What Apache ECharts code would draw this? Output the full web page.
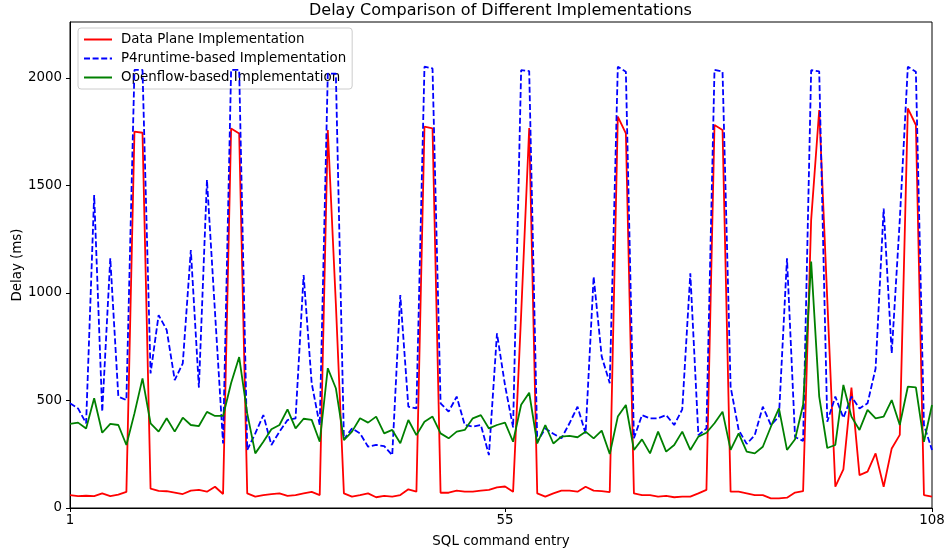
<!DOCTYPE html>
<html>
<head>
<meta charset="utf-8">
<title>Delay Comparison</title>
<script src="https://cdn.jsdelivr.net/npm/echarts@6/dist/echarts.min.js"></script>
<style>
html, body { margin: 0; padding: 0; background: #fff; }
#main { width: 944px; height: 556px; }
</style>
</head>
<body>
<div id="main"></div>
<script>
// delay values (ms) read per SQL command entry, 108 entries
var dataPlane = [
	60, 55, 57, 55, 68, 55, 62, 75, 1750, 1745,
	90, 80, 78, 72, 65, 81, 84, 76, 99, 65,
	1765, 1742, 68, 53, 60, 65, 68, 56, 60, 68,
	75, 60, 1758, 950, 68, 53, 60, 68, 50, 56,
	53, 60, 87, 76, 1773, 1765, 71, 71, 81, 76,
	76, 81, 84, 96, 100, 75, 900, 1767, 68, 53,
	68, 81, 81, 76, 99, 81, 78, 74, 1820, 1742,
	68, 60, 60, 53, 56, 50, 53, 53, 68, 84,
	1781, 1758, 76, 76, 68, 60, 60, 45, 45, 48,
	72, 78, 1340, 1851, 970, 99, 180, 560, 153, 169,
	254, 99, 277, 340, 1858, 1781, 60, 53
];
var p4runtime = [
	487, 463, 394, 1455, 448, 1161, 518, 502, 2037, 2037,
	626, 897, 828, 595, 673, 1200, 560, 1526, 910, 300,
	2037, 2037, 270, 347, 432, 293, 355, 409, 417, 1083,
	580, 385, 2020, 2020, 320, 370, 347, 285, 293, 288,
	246, 990, 471, 463, 2052, 2044, 487, 448, 518, 386,
	378, 386, 246, 812, 570, 375, 2036, 2032, 308, 370,
	345, 324, 394, 471, 347, 1076, 704, 580, 2052, 2029,
	324, 432, 417, 417, 432, 386, 459, 1091, 339, 370,
	2037, 2029, 564, 363, 298, 339, 471, 386, 425, 1161,
	330, 312, 2036, 2030, 401, 518, 419, 518, 463, 487,
	649, 1393, 719, 1339, 2052, 2029, 386, 270
];
var openflow = [
	391, 397, 370, 510, 350, 391, 386, 293, 440, 603,
	394, 355, 417, 355, 420, 386, 381, 447, 428, 428,
	581, 702, 440, 254, 308, 366, 386, 459, 370, 415,
	410, 308, 650, 557, 316, 355, 417, 397, 425, 347,
	363, 301, 409, 339, 401, 425, 347, 324, 355, 363,
	417, 432, 370, 386, 397, 308, 480, 536, 300, 386,
	300, 332, 335, 329, 355, 324, 360, 251, 425, 479,
	270, 319, 254, 355, 262, 293, 355, 270, 332, 350,
	394, 448, 270, 347, 262, 254, 285, 378, 463, 270,
	320, 480, 1146, 518, 279, 293, 572, 425, 363, 456,
	417, 425, 502, 386, 564, 561, 308, 479
];
var xTickValues = [1, 55, 108];
var yTickValues = [0, 500, 1000, 1500, 2000];
var seriesNames = ['Data Plane Implementation', 'P4runtime-based Implementation', 'Openflow-based Implementation'];

var entries = [];
for (var i = 1; i <= dataPlane.length; i++) {
	entries.push(String(i));
}

function isXTick(index){
	return xTickValues.indexOf(index + 1) >= 0;
}

var fontName = 'DejaVu Sans';
var fontSz = 13.4;
var chart = echarts.init(document.getElementById('main'), null, {renderer: 'canvas'});
chart.setOption({
	animation: false,
	backgroundColor: '#fff',
	textStyle: { fontFamily: fontName },
	title: {
		text: 'Delay Comparison of Different Implementations',
		left: 309,
		top: 3,
		padding: 0,
		textStyle: { fontFamily: fontName, fontSize: 16, fontWeight: 'normal', color: '#000' }
	},
	legend: {
		data: seriesNames,
		orient: 'vertical',
		left: 78,
		top: 28,
		padding: [5, 6, 5, 5],
		itemWidth: 28,
		itemHeight: 14,
		itemGap: 6,
		borderColor: '#cccccc',
		borderWidth: 1,
		borderRadius: 3,
		backgroundColor: 'rgba(255,255,255,0.8)',
		itemStyle: { opacity: 0 },
		textStyle: { fontFamily: fontName, fontSize: fontSz, color: '#000', padding: [0, 0, 0, 4] }
	},
	grid: {
		left: 70,
		right: 12,
		top: 22,
		bottom: 48,
		containLabel: false,
		outerBoundsMode: 'none',
		show: true,
		borderColor: '#000',
		borderWidth: 1,
		backgroundColor: 'transparent'
	},
	xAxis: {
		type: 'category',
		data: entries,
		boundaryGap: false,
		name: 'SQL command entry',
		nameLocation: 'middle',
		nameGap: 27,
		nameMoveOverlap: false,
		nameTextStyle: { fontFamily: fontName, fontSize: fontSz, color: '#000' },
		axisLine: { lineStyle: { color: '#000', width: 1 } },
		axisTick: { show: true, length: 4, interval: function(idx){ return isXTick(idx); }, lineStyle: { color: '#000' } },
		axisLabel: { interval: function(idx){ return isXTick(idx); }, margin: 6, fontFamily: fontName, fontSize: fontSz, color: '#000' },
		splitLine: { show: false }
	},
	yAxis: {
		type: 'value',
		min: 0,
		max: 2260,
		interval: 500,
		name: 'Delay (ms)',
		nameLocation: 'middle',
		nameGap: 46,
		nameMoveOverlap: false,
		nameTextStyle: { fontFamily: fontName, fontSize: fontSz, color: '#000' },
		axisLine: { show: true, lineStyle: { color: '#000', width: 1 } },
		axisTick: { show: true, length: 4, customValues: yTickValues, lineStyle: { color: '#000' } },
		axisLabel: {
			customValues: yTickValues,
			margin: 8,
			fontFamily: fontName,
			fontSize: fontSz,
			color: '#000',
			formatter: function(v){ return String(v); }
		},
		splitLine: { show: false }
	},
	series: [
		{
			name: seriesNames[0],
			type: 'line',
			data: dataPlane,
			symbol: 'none',
			color: '#ff0000',
			lineStyle: { color: '#ff0000', width: 1.8 },
			z: 3
		},
		{
			name: seriesNames[1],
			type: 'line',
			data: p4runtime,
			symbol: 'none',
			color: '#0000ff',
			lineStyle: { color: '#0000ff', width: 1.8, type: [6, 2.6] },
			z: 4
		},
		{
			name: seriesNames[2],
			type: 'line',
			data: openflow,
			symbol: 'none',
			color: '#008000',
			lineStyle: { color: '#008000', width: 1.8 },
			z: 5
		}
	]
});
</script>
</body>
</html>
